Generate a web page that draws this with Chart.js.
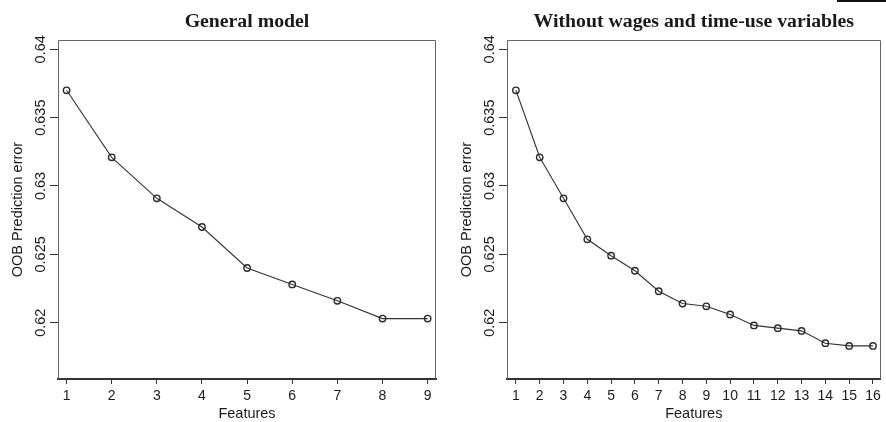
<!DOCTYPE html>
<html>
<head>
<meta charset="utf-8">
<title>OOB prediction error by number of features</title>
<script src="https://cdn.jsdelivr.net/npm/chart.js@4.4.1/dist/chart.umd.min.js"></script>
<style>
    html, body { margin: 0; padding: 0; background: #ffffff; }
    #page { position: relative; width: 886px; height: 422px; overflow: hidden; background: #ffffff; }
    .panel { position: absolute; top: 0; }
    #leftPanel { left: 0; }
    #rightPanel { left: 449px; }
    #cornerMark { position: absolute; left: 837px; top: 0; width: 49px; height: 2px; background: #111; }
</style>
</head>
<body>
<div id="page">
    <div id="cornerMark"></div>
    <div class="panel" id="leftPanel"><canvas id="generalChart" width="443" height="422"></canvas></div>
    <div class="panel" id="rightPanel"><canvas id="reducedChart" width="437" height="422"></canvas></div>
</div>
<script>
// number of features on the x axis
const generalFeatures = [1, 2, 3, 4, 5, 6, 7, 8, 9];
const reducedFeatures = [1, 2, 3, 4, 5, 6, 7, 8, 9, 10, 11, 12, 13, 14, 15, 16];

// OOB prediction error
const generalError = [0.6370, 0.6321, 0.6291, 0.6270, 0.6240, 0.6228, 0.6216, 0.6203, 0.6203];
const reducedError = [0.6370, 0.6321, 0.6291, 0.6261, 0.6249, 0.6238, 0.6223, 0.6214, 0.6212,
                      0.6206, 0.6198, 0.6196, 0.6194, 0.6185, 0.6183, 0.6183];

// tick labels
const yTicks = [0.62, 0.625, 0.63, 0.635, 0.64];
const yTickLabels = ['0.62', '0.625', '0.63', '0.635', '0.64'];

const generalTitle = 'General model';
const reducedTitle = 'Without wages and time-use variables';

const SANS = '"Liberation Sans", Arial, Helvetica, sans-serif';
const SERIF = '"Liberation Serif", "Times New Roman", Times, serif';
const INK = '#1a1a1a';

Chart.defaults.font.family = SANS;
Chart.defaults.color = INK;

// R-style box round the plot region plus the rotated y tick labels
const plotFramePlugin = {
    id: 'plotFrame',
    beforeDatasetsDraw(chart) {
        const { ctx, chartArea: a } = chart;
        ctx.save();
        ctx.strokeStyle = '#666666';
        ctx.lineWidth = 1;
        const left = Math.round(a.left) + 0.5;
        const top = Math.round(a.top) + 0.5;
        const right = Math.round(a.right) - 0.5;
        const bottom = Math.round(a.bottom);
        ctx.beginPath();
        ctx.moveTo(left, bottom);
        ctx.lineTo(left, top);
        ctx.lineTo(right, top);
        ctx.lineTo(right, bottom);
        ctx.stroke();
        ctx.restore();
    },
    afterDraw(chart) {
        const { ctx, chartArea: a } = chart;
        const yScale = chart.scales.y;
        ctx.save();
        ctx.fillStyle = INK;
        ctx.font = '14.5px ' + SANS;
        ctx.textAlign = 'center';
        ctx.textBaseline = 'middle';
        yTicks.forEach((value, index) => {
            const py = yScale.getPixelForValue(value);
            ctx.save();
            ctx.translate(a.left - 17, py);
            ctx.rotate(-Math.PI / 2);
            ctx.fillText(yTickLabels[index], 0, 0);
            ctx.restore();
        });
        ctx.restore();
    }
};

function buildChart(canvasId, titleText, features, errors, xMin, xMax, rightPad) {
    const ctx = document.getElementById(canvasId).getContext('2d');
    return new Chart(ctx, {
        type: 'line',
        data: {
            datasets: [{
                label: titleText,
                data: features.map((f, i) => ({ x: f, y: errors[i] })),
                borderColor: '#333333',
                borderWidth: 1.1,
                tension: 0,
                fill: false,
                pointRadius: 3.2,
                pointBorderWidth: 1.4,
                pointBorderColor: '#2a2a2a',
                pointBackgroundColor: 'rgba(0,0,0,0)',
            }]
        },
        options: {
            responsive: false,
            animation: false,
            devicePixelRatio: 1,
            layout: { padding: { left: 0, right: rightPad, top: 0, bottom: 0 } },
            plugins: {
                legend: { display: false },
                tooltip: { enabled: false },
                title: {
                    display: true,
                    text: titleText,
                    fullSize: false,
                    color: INK,
                    font: { family: SERIF, size: 19.8, weight: 'bold', lineHeight: 1 },
                    padding: { top: 12, bottom: 8.2 }
                }
            },
            scales: {
                x: {
                    type: 'linear',
                    min: xMin,
                    max: xMax,
                    afterBuildTicks: (scale) => { scale.ticks = features.map(v => ({ value: v })); },
                    afterFit: (scale) => { scale.height = 43; },
                    grid: { drawOnChartArea: false, drawTicks: true, tickLength: 5, color: '#333333' },
                    border: { display: true, color: '#333333', width: 2 },
                    ticks: {
                        autoSkip: false, maxRotation: 0, minRotation: 0, padding: 5,
                        color: INK, font: { size: 14, lineHeight: 1 },
                        callback: (value) => String(value)
                    },
                    title: {
                        display: true, text: 'Features', color: INK,
                        font: { size: 14.5, lineHeight: 1 },
                        padding: { top: 0, bottom: 0.75 }
                    }
                },
                y: {
                    type: 'linear',
                    min: 0.61588,
                    max: 0.64068,
                    afterBuildTicks: (scale) => { scale.ticks = yTicks.map(v => ({ value: v })); },
                    afterFit: (scale) => { scale.width = 58; },
                    grid: { drawOnChartArea: false, drawTicks: true, tickLength: 8, color: '#333333' },
                    border: { display: false },
                    ticks: { display: false },
                    title: {
                        display: true, text: 'OOB Prediction error', color: INK,
                        font: { size: 14.5, lineHeight: 1 },
                        padding: { top: 10.25, bottom: 0 }
                    }
                }
            }
        },
        plugins: [plotFramePlugin]
    });
}

buildChart('generalChart', generalTitle, generalFeatures, generalError, 0.81, 9.185, 7);
buildChart('reducedChart', reducedTitle, reducedFeatures, reducedError, 0.626, 16.32, 1);
</script>
</body>
</html>
